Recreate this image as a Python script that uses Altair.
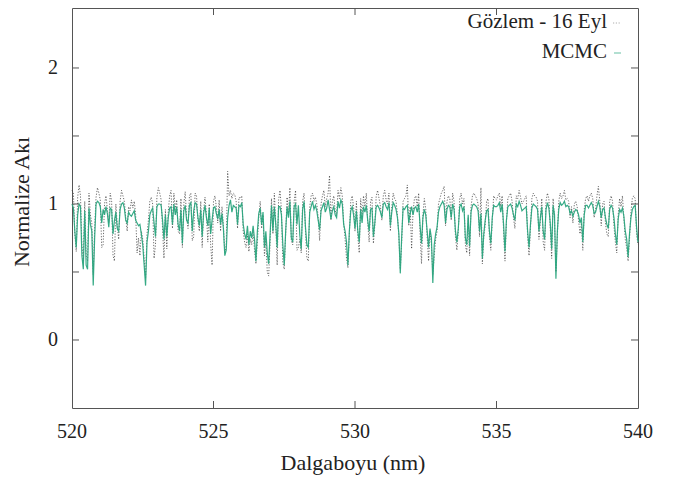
import altair as alt
import pandas as pd

# Wavelength grid (nm), 0.05 nm step
wavelength_start = 520.0
wavelength_step = 0.05
n_points = 401

mcmc = [
    1.0, 0.97, 0.80, 0.68, 0.92, 1.0, 0.98, 0.62, 0.52, 0.95, 0.55, 0.52, 0.97, 0.85, 0.80, 0.40, 0.75, 1.0, 1.02, 1.01,
    0.98, 0.86, 0.96, 0.92, 0.98, 0.93, 0.83, 0.97, 0.96, 0.78, 0.88, 0.94, 0.82, 0.80, 0.96, 1.0, 1.01, 0.97, 0.88, 0.86,
    0.94, 0.92, 0.91, 0.93, 0.95, 0.88, 0.86, 0.84, 0.85, 0.78, 0.70, 0.55, 0.40, 0.72, 0.80, 0.92, 0.95, 0.97, 0.86, 0.76,
    0.98, 1.0, 1.0, 0.99, 0.88, 0.74, 0.92, 0.76, 0.90, 0.97, 0.98, 0.85, 1.0, 0.92, 0.98, 0.85, 0.80, 0.96, 0.71, 0.95,
    0.99, 0.88, 0.86, 0.99, 1.01, 0.80, 0.95, 1.01, 1.0, 0.90, 0.84, 0.96, 0.76, 0.93, 0.99, 0.90, 0.84, 0.97, 0.78, 0.88,
    0.97, 0.98, 0.93, 0.89, 0.96, 0.85, 0.93, 0.82, 0.62, 0.66, 0.90, 0.99, 1.03, 0.94, 0.99, 0.98, 0.97, 0.85, 0.99, 0.98,
    1.01, 0.85, 0.78, 0.74, 0.84, 0.70, 0.80, 0.75, 0.84, 0.74, 0.58, 0.80, 0.93, 0.97, 0.85, 0.94, 0.68, 0.80, 0.64, 0.56,
    0.78, 0.99, 0.80, 0.98, 0.85, 0.68, 0.98, 0.98, 0.92, 0.70, 0.55, 0.80, 0.98, 0.90, 1.02, 0.75, 0.72, 0.98, 1.0, 0.85,
    0.99, 0.77, 0.67, 0.96, 1.02, 0.83, 0.70, 0.68, 0.94, 0.98, 1.02, 0.96, 0.99, 0.95, 0.88, 0.81, 0.95, 0.98, 1.01, 0.94,
    0.97, 1.03, 0.96, 0.89, 0.95, 0.98, 0.92, 0.90, 1.02, 0.97, 1.03, 1.0, 0.85, 0.80, 0.72, 0.55, 0.80, 0.95, 0.98, 0.92,
    0.82, 0.95, 0.80, 0.72, 0.96, 0.86, 0.98, 0.94, 0.99, 0.88, 0.80, 0.96, 0.97, 0.76, 0.86, 0.98, 0.99, 0.97, 0.94, 0.90,
    1.0, 1.01, 0.98, 0.96, 1.01, 0.84, 0.94, 1.01, 0.99, 0.96, 0.90, 0.78, 0.49, 0.76, 0.97, 0.96, 0.98, 0.99, 0.86, 0.93,
    0.98, 0.92, 0.97, 0.98, 0.94, 1.0, 0.84, 0.71, 0.90, 0.96, 0.92, 0.80, 0.68, 0.82, 0.75, 0.42, 0.70, 0.78, 0.83, 0.94,
    0.98, 1.0, 1.02, 0.99, 0.86, 0.96, 0.99, 0.98, 0.90, 1.0, 0.96, 0.80, 0.72, 0.82, 0.98, 1.0, 0.95, 0.98, 0.75, 0.70,
    0.92, 0.69, 0.94, 0.99, 1.0, 0.99, 0.98, 0.95, 0.80, 0.93, 0.60, 0.78, 0.88, 0.95, 0.96, 0.80, 0.71, 0.90, 0.99, 0.98,
    0.98, 0.99, 1.01, 0.94, 1.0, 0.85, 0.65, 0.88, 0.98, 0.99, 1.0, 0.97, 0.92, 0.88, 1.0, 0.98, 1.02, 0.99, 0.95, 0.96,
    0.97, 0.98, 0.80, 0.68, 0.85, 0.97, 1.0, 0.99, 0.98, 0.96, 0.80, 0.90, 0.98, 0.80, 0.74, 0.96, 1.01, 0.97, 0.86, 0.67,
    0.99, 0.92, 0.45, 0.80, 0.96, 1.01, 0.99, 1.0, 1.02, 0.98, 0.99, 0.98, 0.93, 0.95, 0.91, 0.94, 0.96, 0.95, 0.92, 0.86,
    0.90, 0.72, 0.92, 0.99, 0.99, 0.97, 0.99, 1.01, 0.99, 0.93, 0.94, 0.98, 1.02, 0.98, 0.90, 0.96, 0.97, 0.90, 0.85, 0.82,
    0.96, 0.99, 0.97, 0.90, 0.78, 0.70, 0.89, 0.96, 0.94, 0.97, 0.91, 0.80, 0.74, 0.61, 0.78, 0.90, 0.96, 0.98, 0.99, 0.83,
    0.72,
]

observed = [
    1.10, 1.08, 0.78, 0.65, 1.05, 1.14, 1.06, 0.70, 0.58, 1.02, 0.62, 0.58, 1.08, 0.92, 0.86, 0.48, 0.82, 1.05, 1.12, 1.08,
    1.03, 0.68, 0.70, 1.00, 1.06, 0.96, 0.86, 1.08, 1.02, 0.62, 0.58, 1.00, 0.84, 0.74, 1.02, 1.10, 1.06, 1.02, 0.90, 0.80,
    0.98, 0.95, 1.03, 0.97, 1.02, 0.92, 0.64, 0.75, 0.62, 0.80, 0.74, 0.60, 0.45, 0.78, 0.88, 1.02, 1.05, 1.00, 0.60, 0.70,
    1.05, 1.12, 1.08, 1.03, 0.82, 0.60, 0.96, 0.67, 0.94, 1.06, 1.10, 0.82, 1.08, 0.96, 1.03, 0.80, 0.78, 1.04, 0.68, 1.00,
    1.09, 0.90, 0.82, 1.06, 1.08, 0.73, 0.76, 1.08, 1.06, 0.88, 0.80, 1.02, 0.68, 0.95, 1.05, 0.92, 0.72, 1.00, 0.70, 0.55,
    1.02, 1.06, 0.98, 0.86, 1.03, 0.80, 0.98, 0.84, 0.64, 0.70, 1.24, 1.06, 1.10, 1.04, 1.08, 1.07, 1.02, 0.82, 1.05, 1.04,
    1.06, 0.80, 0.72, 0.68, 0.78, 0.65, 0.74, 0.70, 0.80, 0.66, 0.56, 0.72, 0.90, 1.02, 0.82, 0.92, 0.62, 0.74, 0.50, 0.47,
    0.72, 1.04, 0.78, 1.08, 0.86, 0.55, 1.03, 1.10, 0.96, 0.57, 0.52, 0.78, 1.05, 0.92, 1.12, 0.73, 0.70, 1.02, 1.10, 0.66,
    0.68, 0.74, 0.64, 1.02, 1.08, 0.80, 0.60, 0.58, 0.98, 1.06, 1.08, 1.02, 1.05, 1.00, 0.90, 0.73, 1.00, 1.06, 1.10, 0.98,
    1.04, 1.08, 1.21, 0.88, 1.02, 1.06, 0.95, 0.92, 1.10, 1.04, 1.12, 1.06, 0.86, 0.74, 0.60, 0.53, 0.78, 1.02, 1.06, 0.98,
    0.80, 1.02, 0.76, 0.64, 1.04, 0.90, 1.06, 0.98, 1.08, 0.86, 0.72, 1.02, 1.05, 0.71, 0.84, 1.06, 1.10, 1.04, 0.98, 0.88,
    1.06, 1.10, 1.03, 1.00, 1.08, 0.80, 0.98, 1.08, 1.04, 1.02, 0.92, 0.76, 0.52, 0.72, 1.02, 1.04, 1.06, 1.14, 0.84, 0.98,
    0.67, 0.94, 1.04, 1.06, 0.98, 1.08, 0.78, 0.56, 0.92, 1.04, 0.96, 0.76, 0.58, 0.80, 0.70, 0.48, 0.62, 0.74, 0.80, 1.00,
    1.04, 1.08, 1.10, 1.13, 0.84, 1.02, 1.06, 1.04, 0.88, 1.08, 1.02, 0.76, 0.66, 0.80, 1.04, 1.08, 1.00, 1.04, 0.70, 0.64,
    0.90, 0.62, 0.98, 1.06, 1.08, 1.06, 1.04, 1.00, 0.76, 1.12, 0.56, 0.76, 0.84, 1.02, 1.04, 0.76, 0.66, 0.88, 1.06, 1.04,
    1.03, 1.06, 1.08, 0.98, 1.06, 0.80, 0.58, 0.86, 1.04, 1.06, 1.08, 1.02, 0.90, 0.82, 1.06, 1.04, 1.10, 1.05, 1.00, 1.02,
    1.04, 1.06, 0.76, 0.62, 0.82, 1.04, 1.08, 1.06, 1.05, 1.02, 0.74, 0.88, 1.04, 0.72, 0.66, 1.02, 1.08, 1.04, 0.82, 0.60,
    1.04, 0.88, 0.50, 0.76, 1.02, 1.08, 1.04, 1.06, 1.10, 1.03, 1.04, 1.02, 0.90, 0.98, 0.86, 1.00, 1.02, 0.98, 0.88, 0.78,
    0.86, 0.66, 0.96, 1.04, 1.06, 1.02, 1.06, 1.08, 1.04, 0.90, 0.96, 1.06, 1.13, 1.02, 0.84, 1.00, 1.02, 0.86, 0.78, 0.76,
    1.02, 1.06, 1.02, 0.84, 0.72, 0.64, 0.92, 1.04, 0.98, 1.06, 0.90, 0.74, 0.68, 0.58, 0.74, 0.94, 1.04, 1.06, 1.04, 0.78,
    0.70,
]

x_ticks = [520, 525, 530, 535, 540]
y_ticks = [0, 1, 2]
y_minor = [0, 0.5, 1, 1.5, 2]
x_inner = [525, 530, 535]
x_title = "Dalgaboyu (nm)"
y_title = "Normalize Akı"
legend_labels = ["Gözlem - 16 Eyl", "MCMC"]

wavelength = [round(wavelength_start + wavelength_step * i, 2) for i in range(n_points)]
df_obs = pd.DataFrame({"lam": wavelength, "flux": observed})
df_mod = pd.DataFrame({"lam": wavelength, "flux": mcmc})

W, H = 566, 400
FONT = "Liberation Serif"
TXT = "#222222"
GREEN = "#2aa57e"
FRAME = "#555555"

xscale = alt.Scale(domain=[520, 540], nice=False, zero=False)
yscale = alt.Scale(domain=[-0.5, 2.441], nice=False, zero=False)

obs_line = alt.Chart(df_obs).mark_line(
    color="#333333", strokeWidth=0.8, strokeDash=[1.2, 1.6], opacity=0.9
).encode(
    x=alt.X("lam:Q", scale=xscale, axis=None),
    y=alt.Y("flux:Q", scale=yscale, axis=None),
)

mod_line = alt.Chart(df_mod).mark_line(
    color=GREEN, strokeWidth=1.2, opacity=0.95
).encode(
    x=alt.X("lam:Q", scale=xscale, axis=None),
    y=alt.Y("flux:Q", scale=yscale, axis=None),
)

ytick_df = pd.DataFrame({"v": y_minor})
ytl = alt.Chart(ytick_df).mark_rule(color=FRAME, strokeWidth=1).encode(
    y=alt.Y("v:Q", scale=yscale, axis=None), x=alt.value(0), x2=alt.value(7))
ytr = alt.Chart(ytick_df).mark_rule(color=FRAME, strokeWidth=1).encode(
    y=alt.Y("v:Q", scale=yscale, axis=None), x=alt.value(W - 7), x2=alt.value(W))

xtick_df = pd.DataFrame({"v": x_inner})
xtb = alt.Chart(xtick_df).mark_rule(color=FRAME, strokeWidth=1).encode(
    x=alt.X("v:Q", scale=xscale, axis=None), y=alt.value(H - 7), y2=alt.value(H))
xtt = alt.Chart(xtick_df).mark_rule(color=FRAME, strokeWidth=1).encode(
    x=alt.X("v:Q", scale=xscale, axis=None), y=alt.value(0), y2=alt.value(7))

# tick labels
xlab = alt.Chart(pd.DataFrame({"v": x_ticks})).mark_text(
    font=FONT, fontSize=20, color=TXT, baseline="middle", align="center"
).encode(x=alt.X("v:Q", scale=xscale, axis=None), y=alt.value(H + 24), text=alt.Text("v:Q", format="d"))
ylab = alt.Chart(pd.DataFrame({"v": y_ticks})).mark_text(
    font=FONT, fontSize=20, color=TXT, baseline="middle", align="right"
).encode(y=alt.Y("v:Q", scale=yscale, axis=None), x=alt.value(-14), text=alt.Text("v:Q", format="d"))

# axis titles
xtit = alt.Chart(pd.DataFrame({"t": [x_title]})).mark_text(
    font=FONT, fontSize=22, color=TXT, baseline="middle", align="center"
).encode(text="t:N", x=alt.value(W / 2 - 2), y=alt.value(H + 55))
ytit = alt.Chart(pd.DataFrame({"t": [y_title]})).mark_text(
    font=FONT, fontSize=22, color=TXT, baseline="middle", align="center", angle=270
).encode(text="t:N", x=alt.value(-50), y=alt.value(194))

leg1 = alt.Chart(pd.DataFrame({"t": [legend_labels[0]]})).mark_text(
    align="right", baseline="middle", font=FONT, fontSize=21, color=TXT
).encode(text="t:N", x=alt.value(535), y=alt.value(14))
leg2 = alt.Chart(pd.DataFrame({"t": [legend_labels[1]]})).mark_text(
    align="right", baseline="middle", font=FONT, fontSize=21, color=TXT
).encode(text="t:N", x=alt.value(535), y=alt.value(44))
leg1s = alt.Chart(pd.DataFrame({"a": [0]})).mark_rule(
    color="#999999", strokeWidth=0.8, strokeDash=[1.2, 1.6]
).encode(x=alt.value(541), x2=alt.value(549), y=alt.value(15))
leg2s = alt.Chart(pd.DataFrame({"a": [0]})).mark_rule(
    color=GREEN, strokeWidth=1.2, opacity=0.6
).encode(x=alt.value(542), x2=alt.value(549), y=alt.value(45))

chart = alt.layer(
    obs_line, mod_line, ytl, ytr, xtb, xtt, xlab, ylab, xtit, ytit,
    leg1, leg2, leg1s, leg2s
).properties(
    width=W, height=H,
    autosize=alt.AutoSizeParams(type="none"),
    padding={"left": 64, "top": 0, "right": 20, "bottom": 70},
).configure(
    font=FONT
).configure_view(
    stroke=FRAME, strokeWidth=1
)

chart.save("out.html", embed_options={"renderer": "svg", "actions": False})
